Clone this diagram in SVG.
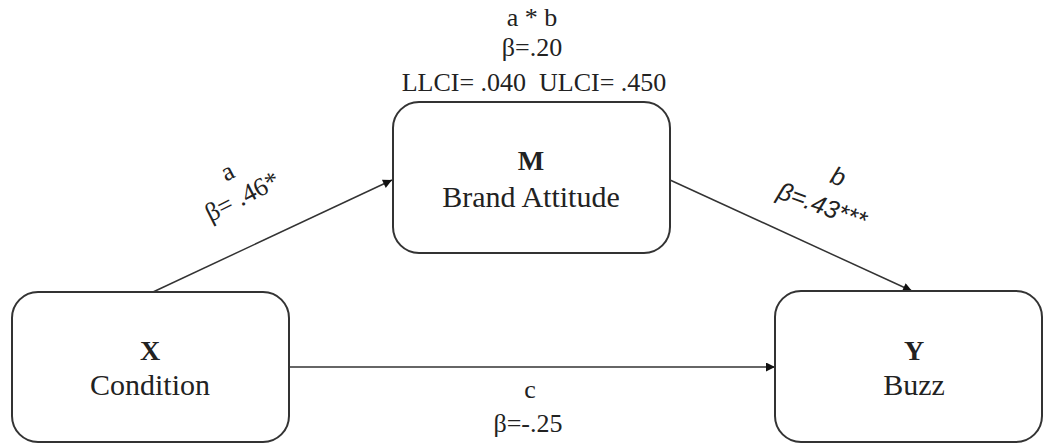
<svg xmlns="http://www.w3.org/2000/svg" width="1045" height="444" viewBox="0 0 1045 444">
<style>
.box{fill:#fff;stroke:#333;stroke-width:2}
.t{font-family:"Liberation Serif","Times New Roman","DejaVu Serif",serif;fill:#222;text-anchor:middle}
.lbl{font-size:26px}
.nb{font-size:28px;font-weight:bold}
.nl{font-size:30px}
.edge{stroke:#333;stroke-width:1.5;fill:none}
.bi{font-family:"Liberation Sans",Arial,sans-serif;font-style:italic;fill:#222;text-anchor:middle;font-size:25px}
</style>
<defs>
<marker id="ah" viewBox="0 0 10 10" refX="10" refY="5" markerWidth="11" markerHeight="9" markerUnits="userSpaceOnUse" orient="auto">
<path d="M0,0 L10,5 L0,10 Z" fill="#111"/>
</marker>
</defs>
<rect width="1045" height="444" fill="#fff"/>
<g id="connectors">
<line class="edge" x1="153" y1="292" x2="392" y2="180" marker-end="url(#ah)"/>
<line class="edge" x1="670" y1="180" x2="912" y2="291" marker-end="url(#ah)"/>
<line class="edge" x1="289" y1="367" x2="775" y2="367" marker-end="url(#ah)"/>
</g>
<g id="node-M">
<rect class="box" x="393" y="102" width="277" height="151" rx="26"/>
<text class="t nb" x="531" y="170">M</text>
<text class="t nl" x="531" y="207">Brand Attitude</text>
</g>
<g id="node-X">
<rect class="box" x="12" y="292" width="277" height="150" rx="26"/>
<text class="t nb" x="150" y="360">X</text>
<text class="t nl" x="150" y="395">Condition</text>
</g>
<g id="node-Y">
<rect class="box" x="775" y="291" width="267" height="151" rx="26"/>
<text class="t nb" x="914" y="360">Y</text>
<text class="t nl" x="914" y="395">Buzz</text>
</g>
<g id="label-ab">
<text class="t lbl" x="532" y="26">a * b</text>
<text class="t lbl" x="532" y="56">β=.20</text>
<text class="t lbl" x="534" y="91" xml:space="preserve">LLCI= .040  ULCI= .450</text>
</g>
<g id="label-a">
<text class="t lbl" x="228" y="180" transform="rotate(-27 228 173)">a</text>
<text class="t lbl" x="242" y="205" transform="rotate(-27 242 196)">β= .46*</text>
</g>
<g id="label-b">
<text class="bi" x="838" y="185" transform="rotate(20 838 177)">b</text>
<text class="bi" x="822" y="214" transform="rotate(20 822 206)">β=.43***</text>
</g>
<g id="label-c">
<text class="t lbl" x="530" y="398">c</text>
<text class="t lbl" x="528" y="432">β=-.25</text>
</g>
</svg>
